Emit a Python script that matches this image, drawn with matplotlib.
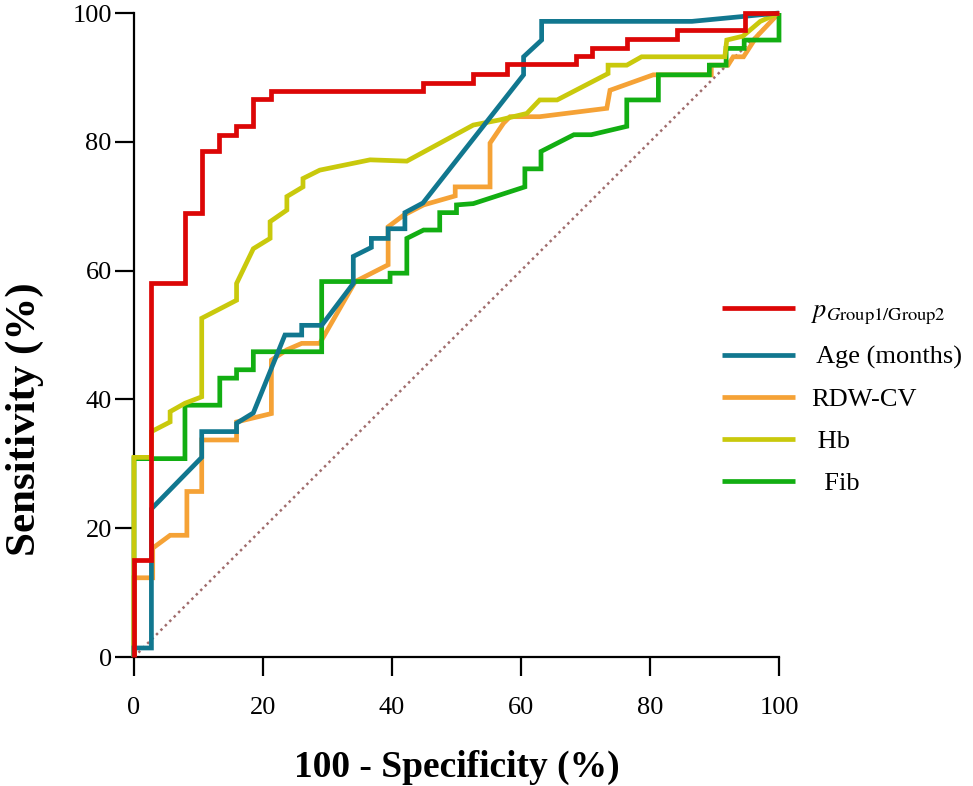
import matplotlib
matplotlib.use("Agg")
import matplotlib.pyplot as plt

# ---- data ----
labels = [r'$p_{G\mathrm{roup1/Group2}}$', ' Age (months)', 'RDW-CV', ' Hb', '  Fib']
colors = ['#dc0606', '#11778f', '#f5a236', '#c9c90c', '#12ae12']

red_x = [0, 0, 2.6, 2.6, 7.9, 7.9, 10.5, 10.5, 13.2, 13.2, 15.8, 15.8, 18.5, 18.5, 21.2, 21.2,
         44.8, 44.8, 52.6, 52.6, 57.8, 57.8, 68.5, 68.5, 71.0, 71.0, 76.4, 76.4, 84.2, 84.2,
         94.7, 94.7, 100]
red_y = [0, 15, 15, 58, 58, 69, 69, 78.5, 78.5, 81, 81, 82.5, 82.5, 86.6, 86.6, 87.9,
         87.9, 89.2, 89.2, 90.5, 90.5, 92.1, 92.1, 93.4, 93.4, 94.6, 94.6, 95.9, 95.9, 97.3,
         97.3, 100, 100]

age_x = [0, 0, 2.7, 2.7, 10.5, 10.5, 15.9, 15.9, 18.5, 23.4, 26.0, 26.0, 29.1, 34.0, 34.0,
         36.8, 36.8, 39.4, 39.4, 42.0, 42.0, 44.8, 60.4, 60.4, 63.2, 63.2, 86.5, 100]
age_y = [0, 1.4, 1.4, 23, 31, 35, 35, 36.3, 37.9, 50, 50, 51.5, 51.5, 58, 62.2,
         63.6, 65, 65, 66.5, 66.5, 69, 70.5, 90.4, 93.2, 95.8, 98.7, 98.7, 100]

rdw_x = [0, 0, 2.9, 2.9, 5.6, 8.2, 8.2, 10.5, 10.5, 15.9, 15.9, 21.3, 21.3, 23.7, 26.0,
         28.8, 34.3, 39.4, 39.4, 41.8, 44.9, 49.8, 49.8, 55.2, 55.2, 57.3, 58.3, 62.9, 73.3,
         73.8, 80.5, 89.5, 89.5, 92.1, 92.9, 94.5, 96.5, 100]
rdw_y = [0, 12.3, 12.3, 16.9, 18.9, 18.9, 25.7, 25.7, 33.7, 33.7, 36.5, 37.8, 46.1, 47.7, 48.7,
         48.7, 58.3, 60.9, 66.8, 68.6, 70.2, 71.6, 73, 73, 79.8, 82.9, 83.9, 83.9, 85.2,
         88, 90.4, 90.4, 91.9, 91.9, 93.2, 93.2, 96.3, 100]

hb_x = [0, 0, 2.7, 2.7, 5.6, 5.6, 7.9, 10.5, 10.5, 15.9, 15.9, 18.5, 21.1, 21.1, 23.7, 23.7,
        26.2, 26.2, 28.8, 36.6, 42.3, 52.6, 56.7, 60.9, 62.9, 65.6, 73.5, 73.5, 76.4, 78.7,
        91.6, 91.9, 94.4, 97.1, 100]
hb_y = [0, 31, 31, 35, 36.5, 38.1, 39.4, 40.4, 52.6, 55.4, 58, 63.4, 65, 67.6, 69.4, 71.5,
        73, 74.3, 75.6, 77.2, 77.0, 82.6, 83.4, 84.4, 86.5, 86.5, 90.6, 91.9, 91.9, 93.2,
        93.2, 95.8, 96.4, 98.7, 100]

fib_x = [0, 0, 7.9, 7.9, 13.3, 13.3, 15.9, 15.9, 18.5, 18.5, 29.1, 29.1, 39.7, 39.7, 42.3, 42.3,
         44.9, 47.4, 47.4, 50.0, 50.0, 52.6, 60.6, 60.6, 63.1, 63.1, 68.2, 70.9, 76.4, 76.4,
         81.3, 81.3, 89.2, 89.2, 91.8, 91.8, 94.6, 94.6, 100, 100]
fib_y = [0, 30.8, 30.8, 39.1, 39.1, 43.3, 43.3, 44.6, 44.6, 47.4, 47.4, 58.3, 58.3, 59.6, 59.6, 65,
         66.3, 66.3, 69, 69, 70.2, 70.4, 73, 75.8, 75.8, 78.5, 81.1, 81.1, 82.4, 86.5,
         86.5, 90.4, 90.4, 91.9, 91.9, 94.5, 94.5, 95.8, 95.8, 100]

ref_x = [0, 100]
ref_y = [0, 100]

xticks = [0, 20, 40, 60, 80, 100]
yticks = [0, 20, 40, 60, 80, 100]

# ---- style ----
plt.rcParams['font.family'] = ['Liberation Serif', 'DejaVu Serif']
plt.rcParams['mathtext.fontset'] = 'stix'

fig = plt.figure(figsize=(9.73, 7.86), dpi=100)
ax = fig.add_axes([134/973, 1 - 657/786, (779-134)/973, (657-13)/786])

ax.plot(ref_x, ref_y, linestyle=(0, (1, 1.5)), color='#a06c6c', lw=1.8, zorder=1)

series = [(red_x, red_y), (age_x, age_y), (rdw_x, rdw_y), (hb_x, hb_y), (fib_x, fib_y)]
order_z = [6, 5, 2, 4, 3]
handles = []
for (xs, ys), c, lab, z in zip(series, colors, labels, order_z):
    h, = ax.plot(xs, ys, color=c, lw=3.4, label=lab, clip_on=False, zorder=z,
                 solid_joinstyle='miter', solid_capstyle='butt')
    handles.append(h)

ax.set_xlim(0, 100)
ax.set_ylim(0, 100)
ax.set_xticks(xticks)
ax.set_yticks(yticks)
for s in ['top', 'right']:
    ax.spines[s].set_visible(False)
for s in ['left', 'bottom']:
    ax.spines[s].set_linewidth(1.6)
    ax.spines[s].set_color('black')
ax.tick_params(direction='out', length=14, width=1.6, labelsize=19)
ax.tick_params(axis='x', pad=15)
ax.tick_params(axis='y', pad=2)

ax.set_xlabel('100 - Specificity (%)', fontsize=27, fontweight='bold', labelpad=22)
ax.set_ylabel('Sensitivity (%)', fontsize=31, fontweight='bold')
ax.yaxis.set_label_coords(-0.14, 0.37)

fig.legend(handles=handles, labels=labels, loc='center left',
           bbox_to_anchor=(0.728, 0.495), frameon=False, fontsize=19,
           handlelength=2.8, handletextpad=0.6, labelspacing=0.7, borderpad=0)

fig.savefig('out.png', dpi=100)
